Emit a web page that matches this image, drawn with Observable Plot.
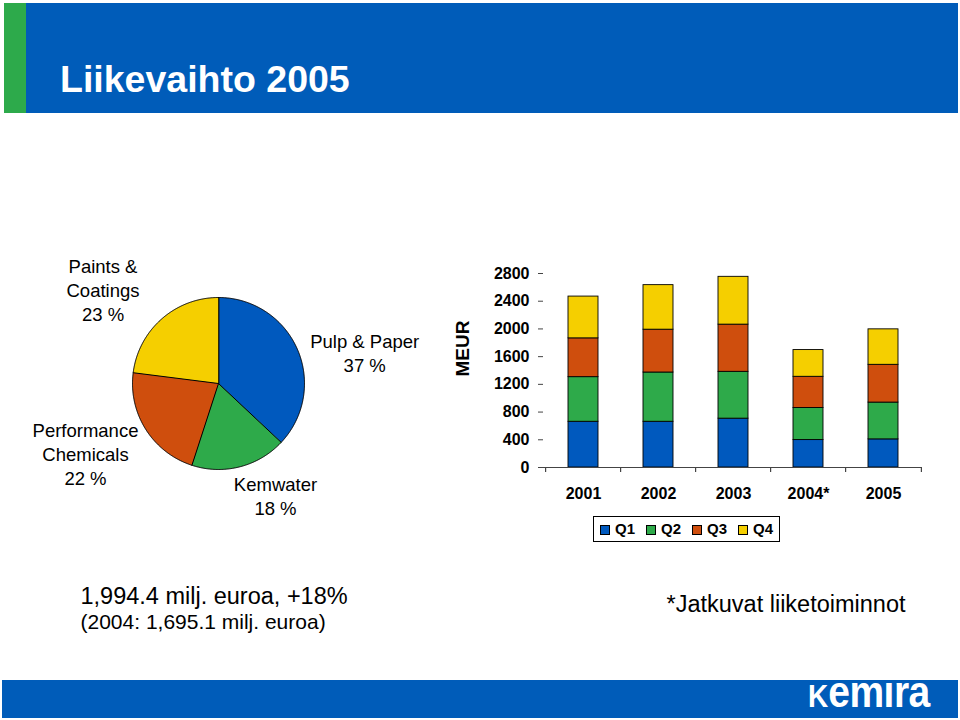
<!DOCTYPE html>
<html>
<head>
<meta charset="utf-8">
<script src="https://cdn.jsdelivr.net/npm/d3@7"></script>
<script src="https://cdn.jsdelivr.net/npm/@observablehq/plot@0.6"></script>
<style>
  html, body { margin: 0; padding: 0; background: #fff; }
  body { width: 960px; height: 720px; position: relative; overflow: hidden;
         font-family: "Liberation Sans", Arial, Helvetica, sans-serif; color: #000; }
  .abs { position: absolute; white-space: nowrap; }
  .pielabel { position: absolute; font-size: 18.5px; line-height: 24px; text-align: center; white-space: nowrap; transform: translateX(-50%); }
  .legend { position: absolute; left: 593px; top: 516px; width: 187px; height: 26px; border: 1px solid #000; box-sizing: border-box; }
  .legend .sw { position: absolute; top: 8px; width: 10px; height: 10px; border: 1px solid #000; box-sizing: border-box; }
  .legend .lt { position: absolute; top: 3px; font-size: 15px; line-height: 18px; font-weight: bold; }
</style>
</head>
<body>
<div class="abs" style="left:4px;top:3px;width:22px;height:110px;background:#2DAA4B;"></div>
<div class="abs" style="left:26px;top:3px;width:932px;height:110px;background:#005CB9;"></div>
<div class="abs" style="left:60px;top:61px;font-size:37.5px;line-height:1;font-weight:bold;color:#fff;">Liikevaihto 2005</div>

<div id="pie" class="abs" style="left:128px;top:293px;"></div>
<div id="bars" class="abs" style="left:440px;top:260px;"></div>
<div id="legend" class="legend"></div>
<div id="pielabels"></div>

<div class="abs" style="left:80.5px;top:584.5px;font-size:23.5px;line-height:1;">1,994.4 milj. euroa, +18%</div>
<div class="abs" style="left:80.5px;top:611px;font-size:21px;line-height:1;">(2004: 1,695.1 milj. euroa)</div>
<div class="abs" style="left:666.5px;top:593px;font-size:23.5px;line-height:1;">*Jatkuvat liiketoiminnot</div>

<div class="abs" style="left:2px;top:680px;width:956px;height:38px;background:#005CB9;"></div>
<div class="abs" style="left:808px;top:674px;line-height:1;font-weight:bold;color:#fff;transform:scaleY(1.14);transform-origin:0 33px;"><span style="font-size:28px;">K</span><span style="font-size:39px;letter-spacing:-0.5px;">emira</span></div>

<script>
// ---- Data ----
const segments = ["Pulp & Paper", "Kemwater", "Performance Chemicals", "Paints & Coatings"];
const segmentShares = [37, 18, 22, 23];
const segmentLabels = [
  ["Pulp & Paper", "37 %"],
  ["Kemwater", "18 %"],
  ["Performance", "Chemicals", "22 %"],
  ["Paints &", "Coatings", "23 %"]
];
const colors = ["#0059BE", "#2EAA4A", "#CF4E0D", "#F5CF00"];

const years = ["2001", "2002", "2003", "2004*", "2005"];
const quarters = ["Q1", "Q2", "Q3", "Q4"];
const q1 = [660, 660, 705, 396, 406];
const q2 = [644, 711, 676, 463, 531];
const q3 = [560, 618, 681, 450, 545];
const q4 = [603, 643, 690, 386, 512];
const yTicks = [0, 400, 800, 1200, 1600, 2000, 2400, 2800];

// ---- Pie ----
const R = 86;
const total = d3.sum(segmentShares);
let acc = 0;
const slices = segments.map((name, i) => {
  const a0 = acc / total * 2 * Math.PI;
  acc += segmentShares[i];
  const a1 = acc / total * 2 * Math.PI;
  const n = Math.max(2, Math.ceil((a1 - a0) / (Math.PI / 360)));
  const pts = [{x: 0, y: 0}];
  for (let k = 0; k <= n; k++) {
    const a = a0 + (a1 - a0) * k / n;
    pts.push({x: R * Math.sin(a), y: R * Math.cos(a)});
  }
  return {name, color: colors[i], pts};
});
const pie = Plot.plot({
  width: 180, height: 180,
  margin: 0,
  x: {domain: [-90, 90], range: [0, 180], axis: null},
  y: {domain: [-90, 90], range: [180, 0], axis: null},
  marks: slices.map(s => Plot.line(s.pts, {x: "x", y: "y", fill: s.color, stroke: "#000", strokeWidth: 1, curve: "linear-closed"}))
});
document.getElementById("pie").appendChild(pie);

// Pie labels (HTML)
const labelPos = [
  {cx: 364.7, top: 330},
  {cx: 275.5, top: 472.5},
  {cx: 85.5, top: 419},
  {cx: 103, top: 255}
];
const pl = document.getElementById("pielabels");
segmentLabels.forEach((lines, i) => {
  const d = document.createElement("div");
  d.className = "pielabel";
  d.style.left = labelPos[i].cx + "px";
  d.style.top = labelPos[i].top + "px";
  d.innerHTML = lines.join("<br>");
  pl.appendChild(d);
});

// ---- Bars ----
const series = [q1, q2, q3, q4];
const data = [];
years.forEach((yr, j) => quarters.forEach((q, i) => data.push({year: yr, q, value: series[i][j]})));

const W = 500, ML = 103, MR = 18;
const step = (W - ML - MR) / years.length;
const bars = Plot.plot({
  width: W, height: 250,
  marginLeft: ML, marginRight: MR, marginTop: 13, marginBottom: 43,
  style: {fontFamily: "'Liberation Sans', Arial, sans-serif", fontWeight: "bold", fontSize: "16px", color: "#000", background: "transparent"},
  x: {domain: years, paddingInner: 0.6, paddingOuter: 0.3, label: null},
  y: {domain: [0, 2800], label: null},
  color: {domain: quarters, range: colors},
  marks: [
    Plot.barY(data, {x: "year", y: "value", fill: "q", stroke: "#000", strokeWidth: 0.9}),
    Plot.ruleY([0], {stroke: "#444", strokeWidth: 1.2}),
    Plot.ruleX(years, {x: d => d, dx: -step / 2, y1: 0, y2: 0, insetBottom: -5, stroke: "#444", strokeWidth: 1.2}),
    Plot.ruleX(years.slice(-1), {x: d => d, dx: step / 2, y1: 0, y2: 0, insetBottom: -5, stroke: "#444", strokeWidth: 1.2}),
    Plot.axisY({ticks: yTicks, tickSize: 5, tickPadding: 9, tickFormat: d => String(d), fontSize: 16, stroke: "#444", label: null}),
    Plot.axisX({tickSize: 0, tickPadding: 20, fontSize: 16, label: null}),
    Plot.text(["MEUR"], {frameAnchor: "left", textAnchor: "middle", rotate: -90, dx: -81, dy: -22, fontSize: 19, fontWeight: "bold"})
  ]
});
document.getElementById("bars").appendChild(bars);

// ---- Legend ----
const lg = document.getElementById("legend");
quarters.forEach((q, i) => {
  const sw = document.createElement("div");
  sw.className = "sw";
  sw.style.left = (6 + i * 46) + "px";
  sw.style.background = colors[i];
  lg.appendChild(sw);
  const t = document.createElement("div");
  t.className = "lt";
  t.style.left = (21 + i * 46) + "px";
  t.textContent = q;
  lg.appendChild(t);
});
</script>
</body>
</html>
